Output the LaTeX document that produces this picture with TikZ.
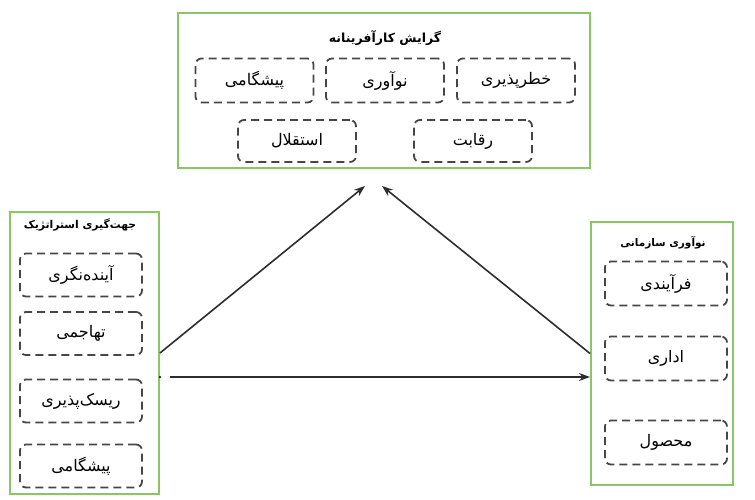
\documentclass[tikz,border=0pt]{standalone}
\usepackage{fontspec}
\newfontfamily\persfont[Script=Arabic]{DejaVu Sans}
\TeXXeTstate=1
\usetikzlibrary{positioning, arrows.meta}
\definecolor{framegreen}{RGB}{140,198,100}
\definecolor{dashgray}{RGB}{70,70,70}
\definecolor{arrowgray}{RGB}{45,45,45}
\newcommand{\fa}[1]{\persfont\beginR #1\endR}

\begin{document}
\begin{tikzpicture}[x=1pt, y=-1pt, >={Stealth[length=11pt, width=8pt]},
        group/.style={draw=framegreen, line width=2pt, inner sep=0pt},
        item/.style={draw=dashgray, line width=1.8pt, dash pattern=on 8pt off 5pt,
            rounded corners=6pt, minimum width=118, minimum height=44, inner sep=0pt,
            font=\fontsize{16}{18}\selectfont},
        heading/.style={font=\fontsize{#1}{14}\selectfont\bfseries}]
        \useasboundingbox (0,0) rectangle (755,499);

        % the three frames
        \node [group, minimum width=412, minimum height=155] (entre) at (384,90) {};
        \node [group, minimum width=149, minimum height=282] (strat) at (84.5,353) {};
        \node [group, minimum width=142, minimum height=263] (innov) at (662,353.5) {};

        \node [heading=12.5] (entreT) at (385,38) {\fa{گرایش کارآفرینانه}};
        \node [heading=10.8] (stratT) at (80,225) {\fa{جهت‌گیری استراتژیک}};
        \node [heading=10.5] (innovT) at (663,243) {\fa{نوآوری سازمانی}};

        % top frame
        \node [item] (eA) at (254.5,80.5) {\fa{پیشگامی}};
        \node [item] (eB) at (385,80.5) {\fa{نوآوری}};
        \node [item] (eC) at (516,80.5) {\fa{خطرپذیری}};
        \node [item, minimum height=42] (eD) at (297,141) {\fa{استقلال}};
        \node [item, minimum height=42] (eE) at (473,141) {\fa{رقابت}};

        % left frame
        \foreach \n/\y/\t in {sA/275/آینده‌نگری, sB/333.5/تهاجمی, sC/401/ریسک‌پذیری, sD/466/پیشگامی}
        {
            \node [item, minimum width=122, minimum height=43] (\n) at (81,\y) {\fa{\t}};
        }

        % right frame
        \foreach \n/\y/\t in {iA/283.5/فرآیندی, iB/358.5/اداری, iC/442.5/محصول}
        {
            \node [item, minimum width=122] (\n) at (666,\y) {\fa{\t}};
        }

        % links
        \coordinate (tipL) at (365,186);
        \coordinate (tipR) at (382,186);
        \coordinate (hstart) at (170,377);
        \draw [->, arrowgray, line width=1.6pt] (strat.east) -- (tipL);
        \draw [->, arrowgray, line width=1.6pt] (innov.west) -- (tipR);
        \draw [->, arrowgray, line width=1.6pt] (hstart) -- (hstart -| innov.west);
        \fill [arrowgray] (hstart -| strat.east) circle (1.3pt);
\end{tikzpicture}
\end{document}
